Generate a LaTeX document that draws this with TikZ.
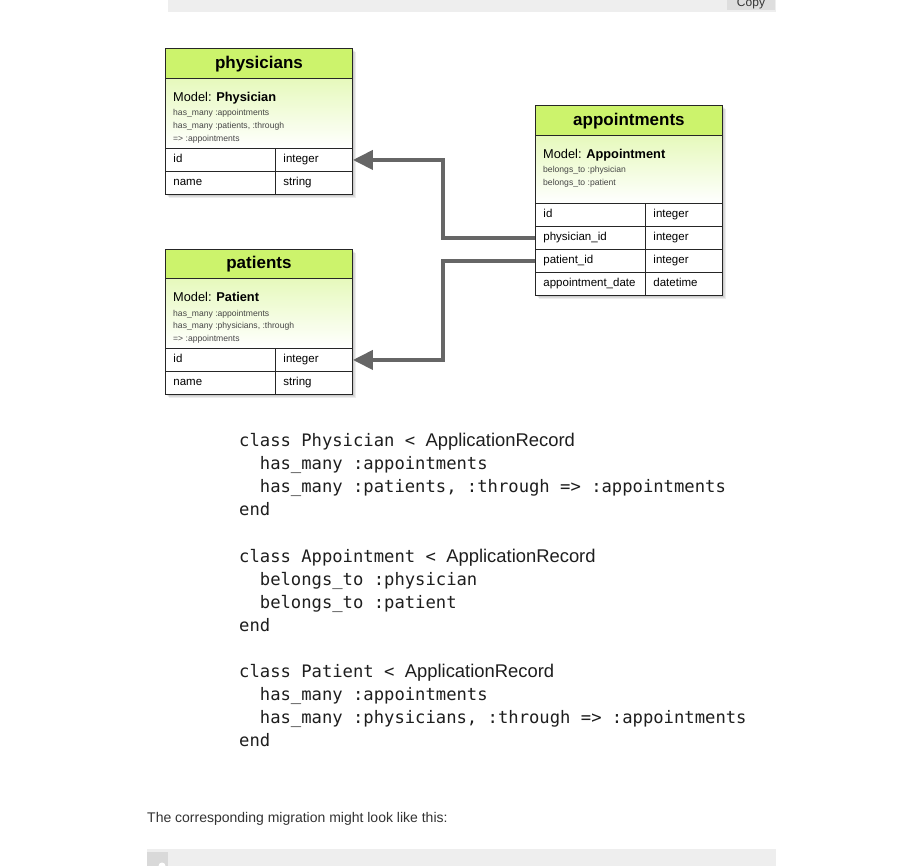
\documentclass[tikz,border=0pt]{standalone}
\usepackage{fontspec}
\setmainfont{Liberation Sans}
\newfontfamily\codefont{DejaVu Sans Mono}
\usetikzlibrary{arrows.meta}
\definecolor{hdrgreen}{RGB}{204,243,108}
\definecolor{descgreen}{RGB}{230,249,188}
\definecolor{conncol}{RGB}{102,102,102}
\definecolor{barcol}{RGB}{238,238,238}
\definecolor{btncol}{RGB}{222,222,222}
\definecolor{smallcol}{RGB}{70,70,70}
\definecolor{codetxt}{RGB}{30,30,30}
\definecolor{paratxt}{RGB}{51,51,51}
\tikzset{
  tbl/.style={draw=black!85, line width=0.9pt},
  hdr/.style={tbl, fill=hdrgreen, anchor=north west, minimum width=187pt, minimum height=30pt, inner sep=0pt, text height=12.5pt, text depth=3pt, font=\fontsize{17}{20}\selectfont\bfseries},
  desc/.style={tbl, top color=descgreen, bottom color=white, anchor=north west, minimum width=187pt, inner sep=0pt},
  cellA/.style={tbl, fill=white, anchor=north west, text width=94pt, inner xsep=8pt, inner ysep=0pt, minimum height=23pt, text height=8.5pt, text depth=2.5pt, align=left, font=\fontsize{11.5}{13}\selectfont},
  cellB/.style={cellA, text width=61pt},
  modeltxt/.style={anchor=base west, inner sep=0pt, font=\fontsize{12.8}{15}\selectfont},
  smalltxt/.style={anchor=base west, inner sep=0pt, text=smallcol, font=\fontsize{8.6}{10}\selectfont},
  shade1/.style={fill=black, opacity=0.07},
  conn/.style={draw=conncol, line width=4pt, -{Triangle[length=20pt,width=19pt]}},
  code/.style={anchor=base west, inner sep=0pt, text=codetxt, font=\codefont\fontsize{17.2}{20}\selectfont},
  para/.style={anchor=base west, inner sep=0pt, text=paratxt, font=\fontsize{14}{16}\selectfont},
}
\newcommand{\apprec}{{\fontspec{Liberation Sans}\fontsize{18.4}{20}\selectfont ApplicationRecord}}
\begin{document}
\begin{tikzpicture}[x=1pt,y=-1pt]
\useasboundingbox[fill=white] (0,0) rectangle (919,866);
% top code block bar
\fill[barcol] (168,0) rectangle (776,12);
\node[fill=btncol, anchor=south, minimum width=48pt, minimum height=14pt, inner sep=0pt, font=\fontsize{12}{14}\selectfont, text=black!80] (copybtn) at (751,10.5) {Copy};
% shadows
\foreach \d in {1,2,3,4} {
  \fill[shade1] (165+\d,48+\d) rectangle (352+\d,194+\d);
  \fill[shade1] (535+\d,105+\d) rectangle (722+\d,295+\d);
  \fill[shade1] (165+\d,249+\d) rectangle (352+\d,394+\d);
}
% physicians table
\node[hdr] (ph-h) at (165,48) {physicians};
\node[desc, minimum height=70pt] (ph-d) at (165,78) {};
\node[cellA] (ph-id) at (165,148) {id};
\node[cellB] (ph-idt) at (275,148) {integer};
\node[cellA] (ph-nm) at (165,171) {name};
\node[cellB] (ph-nmt) at (275,171) {string};
\node[modeltxt] (ph-m) at (173,102) {Model: \textbf{Physician}};
\node[smalltxt] (ph-s1) at (173,116) {has\_many :appointments};
\node[smalltxt] (ph-s2) at (173,129) {has\_many :patients, :through};
\node[smalltxt] (ph-s3) at (173,142) {=> :appointments};
% appointments table
\node[hdr] (ap-h) at (535,105) {appointments};
\node[desc, minimum height=68pt] (ap-d) at (535,135) {};
\node[cellA] (ap-id) at (535,203) {id};
\node[cellB] (ap-idt) at (645,203) {integer};
\node[cellA] (ap-ph) at (535,226) {physician\_id};
\node[cellB] (ap-pht) at (645,226) {integer};
\node[cellA] (ap-pa) at (535,249) {patient\_id};
\node[cellB] (ap-pat) at (645,249) {integer};
\node[cellA] (ap-dt) at (535,272) {appointment\_date};
\node[cellB] (ap-dtt) at (645,272) {datetime};
\node[modeltxt] (ap-m) at (543,159) {Model: \textbf{Appointment}};
\node[smalltxt] (ap-s1) at (543,173) {belongs\_to :physician};
\node[smalltxt] (ap-s2) at (543,186) {belongs\_to :patient};
% patients table
\node[hdr, minimum height=29pt] (pa-h) at (165,249) {patients};
\node[desc, minimum height=70pt] (pa-d) at (165,278) {};
\node[cellA] (pa-id) at (165,348) {id};
\node[cellB] (pa-idt) at (275,348) {integer};
\node[cellA] (pa-nm) at (165,371) {name};
\node[cellB] (pa-nmt) at (275,371) {string};
\node[modeltxt] (pa-m) at (173,302) {Model: \textbf{Patient}};
\node[smalltxt] (pa-s1) at (173,317) {has\_many :appointments};
\node[smalltxt] (pa-s2) at (173,329) {has\_many :physicians, :through};
\node[smalltxt] (pa-s3) at (173,342) {=> :appointments};
% connectors
\coordinate (bend) at (443,0);
\draw[conn] (ap-ph.west) -- (ap-ph.west -| bend) |- (ph-idt.east);
\draw[conn] (ap-pa.west) -- (ap-pa.west -| bend) |- (pa-idt.east);
% code
\node[code] (c1) at (239,447) {class Physician <~\apprec};
\node[code] (c2) at (239,470) {~~has\_many :appointments};
\node[code] (c3) at (239,493) {~~has\_many :patients, :through => :appointments};
\node[code] (c4) at (239,516) {end};
\node[code] (c5) at (239,562) {class Appointment <~\apprec};
\node[code] (c6) at (239,585) {~~belongs\_to :physician};
\node[code] (c7) at (239,608) {~~belongs\_to :patient};
\node[code] (c8) at (239,631) {end};
\node[code] (c9) at (239,677) {class Patient <~\apprec};
\node[code] (c10) at (239,700) {~~has\_many :appointments};
\node[code] (c11) at (239,723) {~~has\_many :physicians, :through => :appointments};
\node[code] (c12) at (239,746) {end};
% paragraph
\node[para] (p1) at (147,822) {The corresponding migration might look like this:};
% bottom bar
\fill[barcol] (147,849) rectangle (776,866);
\node[fill=black!15, anchor=north west, minimum width=21pt, minimum height=14pt, inner sep=0pt] (icon) at (147,852) {};
\fill[white] (162,866) circle (3.5pt);
\end{tikzpicture}
\end{document}
